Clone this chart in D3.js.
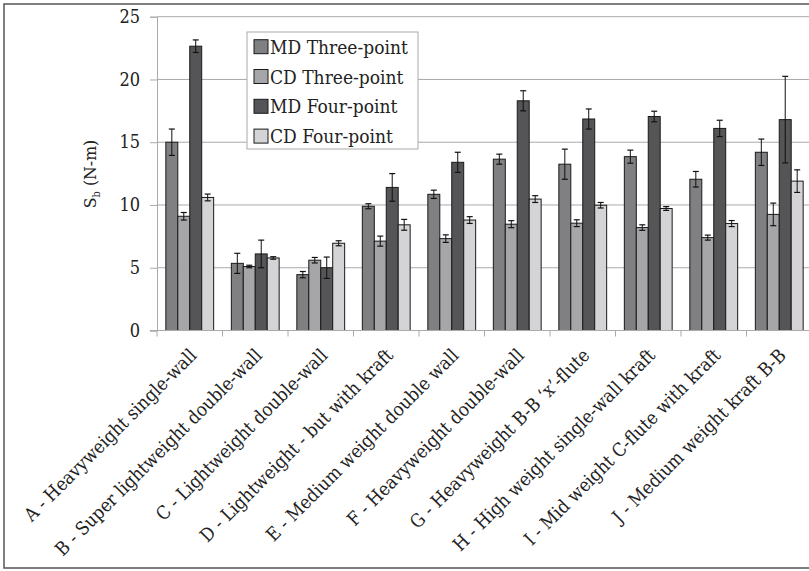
<!DOCTYPE html>
<html><head><meta charset="utf-8">
<script src="https://cdn.jsdelivr.net/npm/d3@7"></script>
<style>body{margin:0;background:#fff}svg{display:block}svg text{font-stretch:condensed}</style>
</head><body><svg id="c" width="809" height="571"></svg>
<script>
const categories = ["A - Heavyweight single-wall","B - Super lightweight double-wall","C - Lightweight double-wall","D - Lightweight - but with kraft","E - Medium weight double wall","F - Heavyweight double-wall","G - Heavyweight B-B \u2018x\u2019-flute","H - High weight single-wall kraft","I - Mid weight C-flute with kraft","J - Medium weight kraft B-B"];
const seriesNames = ["MD Three-point","CD Three-point","MD Four-point","CD Four-point"];
const md3 = [15.0, 5.35, 4.45, 9.9, 10.85, 13.65, 13.25, 13.85, 12.05, 14.2];
const md3Err = [1.05, 0.8, 0.25, 0.2, 0.33, 0.4, 1.2, 0.52, 0.62, 1.05];
const cd3 = [9.1, 5.1, 5.6, 7.12, 7.32, 8.47, 8.55, 8.2, 7.4, 9.25];
const cd3Err = [0.3, 0.1, 0.22, 0.4, 0.3, 0.28, 0.27, 0.22, 0.2, 0.9];
const md4 = [22.65, 6.1, 5.0, 11.4, 13.4, 18.3, 16.85, 17.05, 16.1, 16.8];
const md4Err = [0.5, 1.1, 0.85, 1.1, 0.8, 0.8, 0.8, 0.42, 0.65, 3.45];
const cd4 = [10.6, 5.78, 6.95, 8.42, 8.8, 10.47, 9.98, 9.72, 8.52, 11.9];
const cd4Err = [0.27, 0.1, 0.2, 0.43, 0.27, 0.27, 0.22, 0.15, 0.24, 0.9];
const yTicks = [0, 5, 10, 15, 20, 25];
const colors = ["#808083","#a6a6a9","#555558","#d4d4d6"];

const FONT = "DejaVu Serif Condensed, DejaVu Serif";
const values = [md3, cd3, md4, cd4];
const errs = [md3Err, cd3Err, md4Err, cd4Err];
const svg = d3.select("#c");

svg.append("rect").attr("x",4).attr("y",4).attr("width",830).attr("height",564)
  .attr("fill","none").attr("stroke","#555").attr("stroke-width",1.5);

const x0 = d3.scaleBand().domain(categories).range([157, 812]).paddingInner(0.27).paddingOuter(0.135);
const x1 = d3.scaleBand().domain(seriesNames).range([0, x0.bandwidth()]);
const y = d3.scaleLinear().domain([0, 25]).range([330.5, 16.7]);

svg.append("g").selectAll("line").data(yTicks.filter(d=>d>0)).join("line")
  .attr("x1",157).attr("x2",809).attr("y1",d=>y(d)).attr("y2",d=>y(d))
  .attr("stroke","#aaa").attr("stroke-width",1);

const ya = svg.append("g").attr("transform","translate(157,0)")
  .call(d3.axisLeft(y).tickValues(yTicks).tickSize(7).tickPadding(10));
ya.attr("font-family",FONT);
ya.select(".domain").attr("stroke","#aaa");
ya.selectAll(".tick line").attr("stroke","#aaa");
ya.selectAll(".tick text").attr("font-size",18).attr("fill","#222").attr("font-family",FONT);

const groups = svg.append("g").selectAll("g").data(categories).join("g")
  .attr("transform",c=>`translate(${x0(c)},0)`);
seriesNames.forEach((s,si)=>{
  groups.append("rect")
    .attr("x",x1(s)).attr("width",x1.bandwidth())
    .attr("y",(c,i)=>y(values[si][i])).attr("height",(c,i)=>y(0)-y(values[si][i]))
    .attr("fill",colors[si]).attr("stroke","#1a1a1a").attr("stroke-width",1);
});
seriesNames.forEach((s,si)=>{
  const cx = x1(s)+x1.bandwidth()/2;
  groups.each(function(c,i){
    const g = d3.select(this);
    const v = values[si][i], e = errs[si][i];
    g.append("line").attr("x1",cx).attr("x2",cx).attr("y1",y(v+e)).attr("y2",y(v-e)).attr("stroke","#111").attr("stroke-width",1);
    [v+e, v-e].forEach(t=>g.append("line").attr("x1",cx-3).attr("x2",cx+3).attr("y1",y(t)).attr("y2",y(t)).attr("stroke","#111").attr("stroke-width",1.2));
  });
});

svg.append("line").attr("x1",150).attr("x2",809).attr("y1",y(0)).attr("y2",y(0)).attr("stroke","#aaa");
const bounds = categories.map(c=>x0(c)-x0.step()*x0.paddingInner()/2);
svg.append("g").selectAll("line").data(bounds).join("line")
  .attr("x1",d=>d).attr("x2",d=>d).attr("y1",y(0)).attr("y2",y(0)+6).attr("stroke","#aaa");

svg.append("g").selectAll("text").data(categories).join("text")
  .attr("transform",c=>`translate(${x0(c)+x0.bandwidth()/2+8},${y(0)+26}) rotate(-45)`)
  .attr("text-anchor","end").attr("font-size",18.5).attr("font-family",FONT).attr("fill","#222").text(c=>c);

const yl = svg.append("text").attr("transform","translate(96,174) rotate(-90)")
  .attr("text-anchor","middle").attr("font-size",17.5).attr("font-family",FONT).attr("fill","#222");
yl.append("tspan").text("S");
yl.append("tspan").attr("font-size",11).attr("dy",4).text("b");
yl.append("tspan").attr("dy",-4).text(" (N-m)");

const lg = svg.append("g");
lg.append("rect").attr("x",247).attr("y",32).attr("width",171).attr("height",117)
  .attr("fill","#fff").attr("stroke","#aaa");
seriesNames.forEach((s,i)=>{
  const cy = 46.7 + i*29.8;
  lg.append("rect").attr("x",254).attr("y",cy-7).attr("width",14).attr("height",14)
    .attr("fill",colors[i]).attr("stroke","#1a1a1a");
  lg.append("text").attr("x",270).attr("y",cy+7).attr("font-size",19).attr("font-family",FONT).attr("fill","#222").text(s);
});
</script></body></html>
